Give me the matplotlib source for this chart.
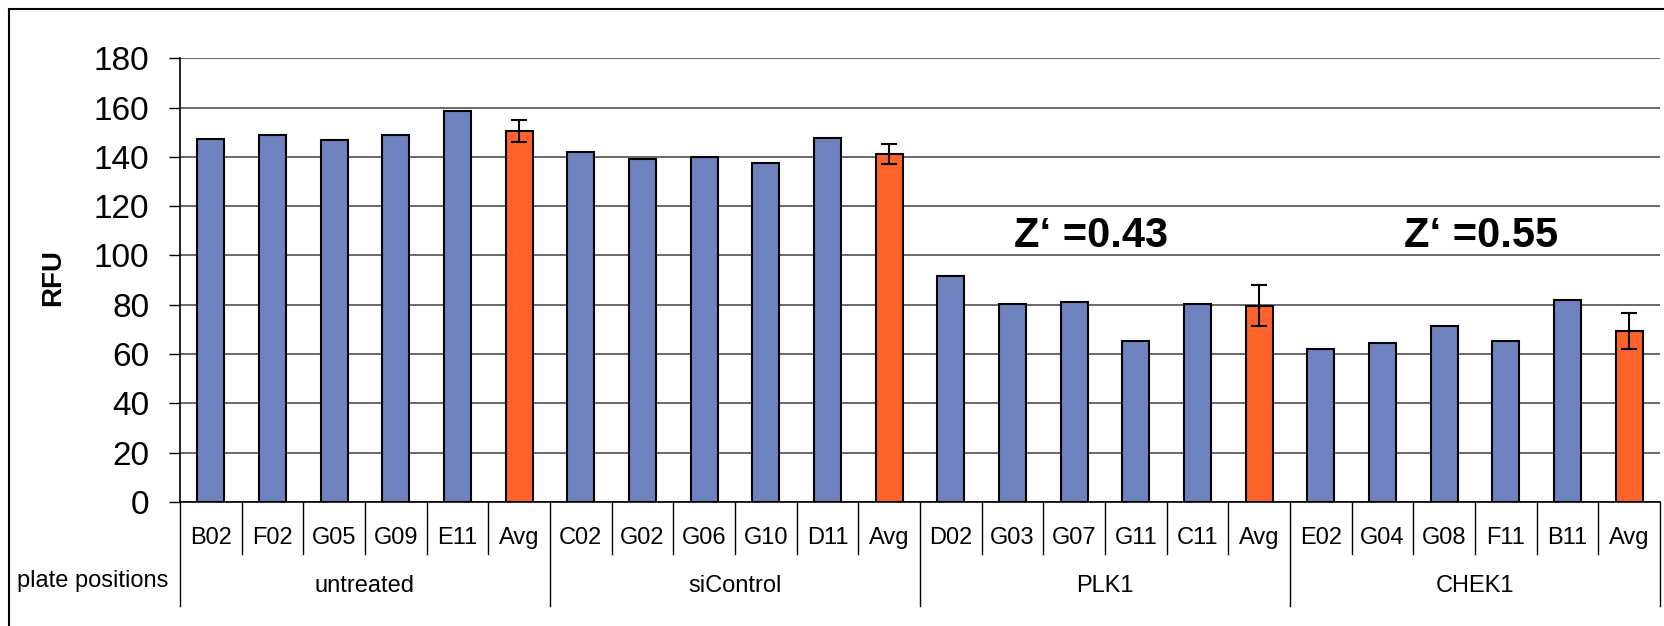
import matplotlib.pyplot as plt
import matplotlib.transforms as mtransforms
from matplotlib.lines import Line2D

plt.rcParams['font.family'] = ['Liberation Sans', 'DejaVu Sans']

groups = ['untreated', 'siControl', 'PLK1', 'CHEK1']
positions = [
    ['B02', 'F02', 'G05', 'G09', 'E11', 'Avg'],
    ['C02', 'G02', 'G06', 'G10', 'D11', 'Avg'],
    ['D02', 'G03', 'G07', 'G11', 'C11', 'Avg'],
    ['E02', 'G04', 'G08', 'F11', 'B11', 'Avg'],
]
values = [
    [147.3, 148.9, 146.7, 148.9, 158.8, 150.6],
    [142.1, 139.0, 139.9, 137.6, 147.5, 141.3],
    [91.5, 80.4, 81.1, 65.2, 80.4, 79.7],
    [62.2, 64.6, 71.4, 65.2, 82.1, 69.3],
]
avg_err = [4.5, 4.0, 8.4, 7.4]
z_labels = ["Z\u2018 =0.43", "Z\u2018 =0.55"]

blue = '#6E82BE'
orange = '#FF6329'

fig = plt.figure(figsize=(16.64, 6.26), dpi=100)
ax = fig.add_axes([180 / 1664, 1 - 502 / 626, 1480 / 1664, 443.7 / 626])

n_per = len(positions[0])
labels = [p for g in positions for p in g]
heights = [v for g in values for v in g]
colors = [orange if p == 'Avg' else blue for p in labels]
x = list(range(len(labels)))

ax.bar(x, heights, width=0.44, color=colors, edgecolor='black', linewidth=1.5, zorder=3)

avg_x = [gi * n_per + n_per - 1 for gi in range(len(groups))]
avg_y = [g[-1] for g in values]
ax.errorbar(avg_x, avg_y, yerr=avg_err, fmt='none', ecolor='black',
            elinewidth=1.5, capsize=6, capthick=1.5, zorder=4)

ax.set_xlim(-0.5, len(labels) - 0.5)
ax.set_ylim(0, 180)
ax.set_yticks(range(0, 181, 20))
ax.tick_params(axis='y', labelsize=24, length=8, width=1, direction='out', pad=14)
ax.set_xticks([])
ax.yaxis.grid(True, color='#404040', linewidth=1.1)
ax.set_axisbelow(True)
for s in ['top', 'right']:
    ax.spines[s].set_visible(False)
ax.spines['left'].set_linewidth(1.2)
ax.spines['bottom'].set_linewidth(1.2)

# category table below the axis
trans = mtransforms.blended_transform_factory(ax.transData, ax.transAxes)
row1 = (502 - 554) / 443.7
row2 = (502 - 606) / 443.7
for i, lab in enumerate(labels):
    ax.text(i, -0.081, lab, transform=trans, ha='center', va='center', fontsize=17)
for i in range(len(labels) + 1):
    bottom = row2 if i % n_per == 0 else row1
    ax.add_line(Line2D([i - 0.5, i - 0.5], [0, bottom], transform=trans,
                       color='black', linewidth=1, clip_on=False))
for gi, g in enumerate(groups):
    ax.text(gi * n_per + (n_per - 1) / 2, -0.189, g, transform=trans,
            ha='center', va='center', fontsize=17)

fig.text(17 / 1664, 1 - 581 / 626, 'plate positions', ha='left', va='center', fontsize=17)
fig.text(53 / 1664, 1 - 278 / 626, 'RFU', rotation=90, ha='center', va='center',
         fontsize=20, fontweight='bold')

ax.text(14.27, 108, z_labels[0], ha='center', va='center', fontsize=30, fontweight='bold')
ax.text(20.6, 108, z_labels[1], ha='center', va='center', fontsize=30, fontweight='bold')

# outer frame (top and left edges)
fig.add_artist(Line2D([9 / 1664, 1], [1 - 9 / 626, 1 - 9 / 626], transform=fig.transFigure,
                      color='black', linewidth=1.5))
fig.add_artist(Line2D([9 / 1664, 9 / 1664], [0, 1 - 9 / 626], transform=fig.transFigure,
                      color='black', linewidth=1.5))

fig.savefig('out.png', dpi=100)
